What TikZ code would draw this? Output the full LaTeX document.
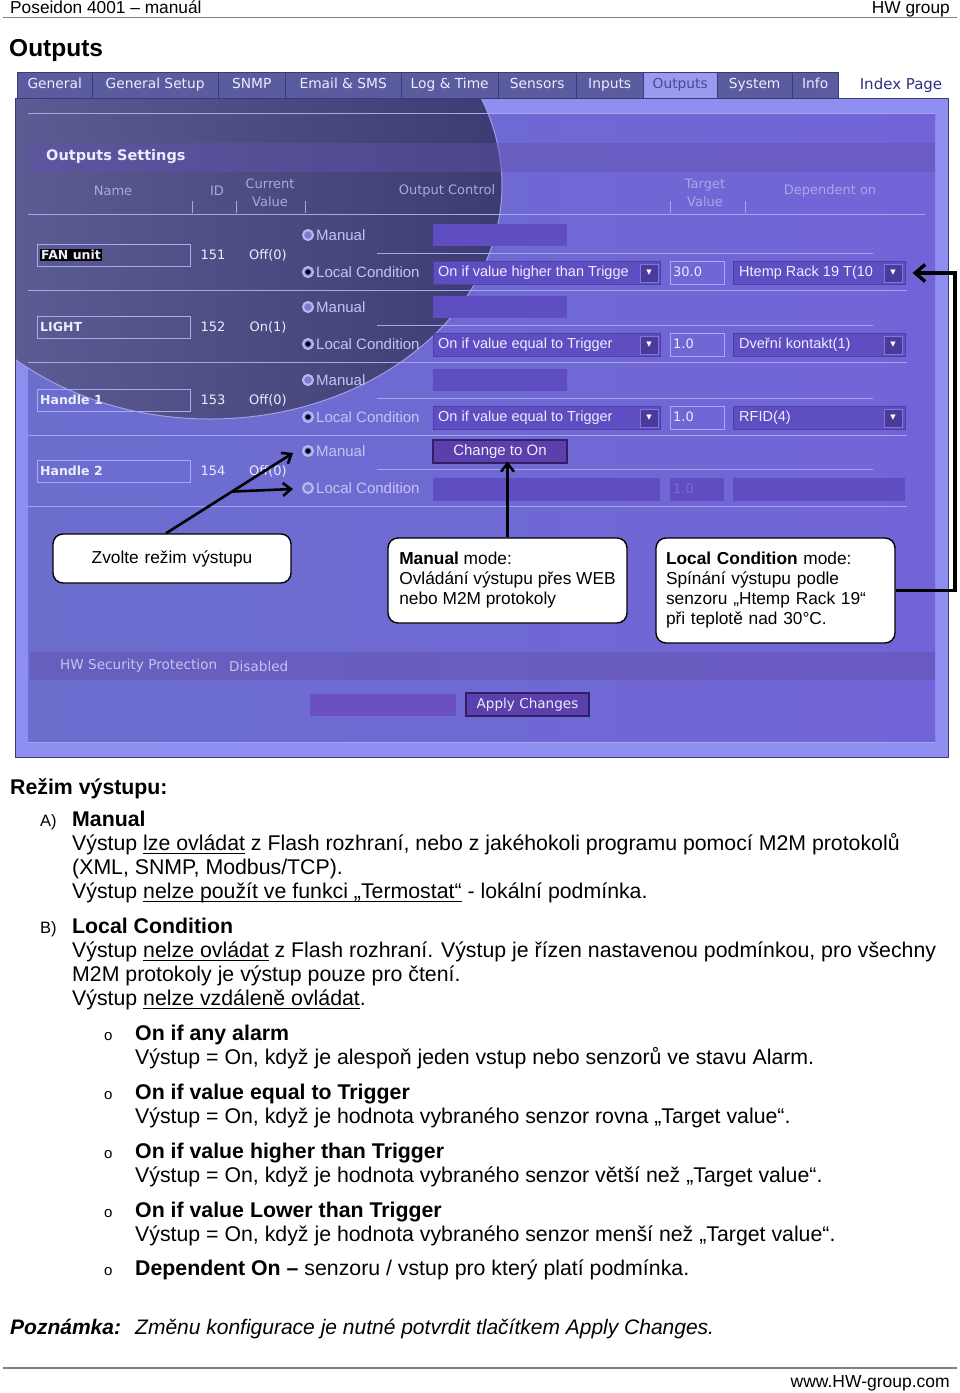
\documentclass[tikz,border=0pt]{standalone}
\usepackage{fontspec}
\setmainfont{Liberation Sans}
\newfontfamily\uif{DejaVu Sans}
\usetikzlibrary{arrows.meta,calc}
\definecolor{pnl}{HTML}{8E8EF0}
\definecolor{pnlb}{HTML}{3C3C7C}
\definecolor{tabf}{HTML}{5B5BA0}
\definecolor{tabb}{HTML}{3A3A78}
\definecolor{tabsel}{HTML}{9A9AEE}
\definecolor{tabseltxt}{HTML}{4A4A92}
\definecolor{idxtxt}{HTML}{303080}
\definecolor{hdrtxt}{HTML}{A8A8E6}
\definecolor{fld}{HTML}{5E4EC2}
\definecolor{fldb}{HTML}{4C40A6}
\definecolor{btnf}{HTML}{4A3A9C}
\definecolor{btnb}{HTML}{8078D4}
\definecolor{lin}{HTML}{A6A6EE}
\definecolor{lbl}{HTML}{C4C4F2}
\definecolor{val}{HTML}{ECECFF}
\definecolor{dk1}{HTML}{62629A}
\definecolor{dk2}{HTML}{3C3C72}
\definecolor{in1}{HTML}{6C6ECE}
\definecolor{in2}{HTML}{7264D8}
\definecolor{band}{HTML}{6252AE}
\definecolor{chg}{HTML}{5B3FAA}
\definecolor{chgb}{HTML}{2C2066}
\definecolor{nbx}{HTML}{A8A8F4}
\definecolor{rad}{HTML}{B8B8F4}
\definecolor{radin}{HTML}{7C7CD4}
\definecolor{tgt}{HTML}{A8A8FF}
\definecolor{elin}{HTML}{A0A0E4}
\definecolor{blank}{HTML}{6A50C0}
\definecolor{dis}{HTML}{7A6AD4}
\definecolor{rule}{HTML}{808080}
\newcommand\fsz[2]{\fontsize{#1}{#2}\selectfont}
\newcommand\myul[1]{\setbox0\hbox{#1}\rlap{\rule[-3.5pt]{\wd0}{0.9pt}}\box0\relax}
\tikzset{
 tabn/.style={draw=tabb, fill=tabf, text=val, font=\uif\fsz{13.8}{15}, inner sep=0, minimum height=26, text height=10, text depth=3, anchor=north west},
 colh/.style={text=hdrtxt, font=\uif\fsz{13}{18}, align=center, inner sep=0},
 ln/.style={draw=lin, line width=0.9},
 namebox/.style={draw=nbx, minimum width=153, minimum height=22, inner sep=0, line width=0.9},
 nametxt/.style={anchor=west, inner sep=0, text=val, font=\uif\bfseries\fsz{12.5}{14}},
 valtxt/.style={inner sep=0, text=val, font=\uif\fsz{13}{15}},
 radio/.style={circle, draw=rad, fill=radin, line width=2, minimum size=10, inner sep=0},
 rlbl/.style={anchor=west, inner sep=0, text=lbl, font=\fsz{15}{17}},
 fldbox/.style={fill=fld, minimum width=134, minimum height=22, inner sep=0},
 ddbox/.style={fill=fld, draw=fldb, line width=1, minimum height=23, inner sep=0},
 ddtxt/.style={anchor=west, inner sep=0, text=val, font=\fsz{14.5}{16}},
 ddbtn/.style={fill=btnf, draw=btnb, line width=0.8, minimum size=18, inner sep=0, text=white, font=\uif\fsz{7}{7}},
 tgtbox/.style={draw=tgt, line width=1, minimum width=54, minimum height=23, inner sep=0},
 tgttxt/.style={anchor=west, inner sep=0, text=val, font=\uif\fsz{13}{15}},
 uibtn/.style={fill=chg, draw=chgb, line width=1.2, inner sep=0, text=val},
 callout/.style={draw=black, line width=1.4, rounded corners=10, fill=white, inner xsep=10, inner ysep=0, font=\fsz{17.3}{20}, align=left},
 arr/.style={draw=black, line width=2.6, -{Straight Barb[length=8pt, width=13pt]}},
 body/.style={anchor=base west, inner sep=0, font=\fsz{21.3}{24}},
 bodyb/.style={anchor=base west, inner sep=0, font=\bfseries\fsz{21.3}{24}},
 bul/.style={anchor=base west, inner sep=0, font=\fsz{15}{18}},
}
\begin{document}
\begin{tikzpicture}[x=1pt,y=-1pt]
\useasboundingbox (0,0) rectangle (960,1393);
\fill[white] (0,0) rectangle (960,1393);
% page header
\node[anchor=base west, inner sep=0, font=\fsz{17.3}{18}] (hdl) at (10,13) {Poseidon 4001 – manuál};
\node[anchor=base east, inner sep=0, font=\fsz{17.3}{18}] (hdr) at (950,13) {HW group};
\draw[rule, line width=1.2] (3,17.5) -- (957,17.5);
\node[anchor=base west, inner sep=0, font=\bfseries\fsz{24.5}{28}] (ttl) at (9,56) {Outputs};
% screenshot panel
\fill[pnl] (15,98) rectangle (948,757);
\shade[left color=in1, right color=in2] (28,113) rectangle (935,742);
\begin{scope}
\clip (15,98) rectangle (948,757);
\shade[left color=dk1, right color=dk2] (210,185) ellipse [x radius=292, y radius=234];
\draw[elin, line width=1] (210,185) ellipse [x radius=292, y radius=234];
\end{scope}
\draw[lin, line width=1] (28,113) -- (935,113);
\draw[lin, line width=1] (28,742) -- (935,742);
\draw[pnlb, line width=1] (15,98) rectangle (948,757);
% tabs
\node[tabn, minimum width=75] (t1) at (17,72) {General};
\node[tabn, minimum width=126] (t2) at (92,72) {General Setup};
\node[tabn, minimum width=67] (t3) at (218,72) {SNMP};
\node[tabn, minimum width=116] (t4) at (285,72) {Email \& SMS};
\node[tabn, minimum width=97] (t5) at (401,72) {Log \& Time};
\node[tabn, minimum width=78] (t6) at (498,72) {Sensors};
\node[tabn, minimum width=67] (t7) at (576,72) {Inputs};
\node[tabn, minimum width=74, fill=tabsel, text=tabseltxt] (t8) at (643,72) {Outputs};
\node[tabn, minimum width=75] (t9) at (717,72) {System};
\node[tabn, minimum width=46] (t10) at (792,72) {Info};
\node[inner sep=0, text=idxtxt, font=\uif\fsz{15}{16}] (t11) at (901,85) {Index Page};
% settings header band
\fill[band, opacity=0.45] (30,143) rectangle (935,172);
\node[anchor=west, inner sep=0, text=val, font=\uif\bfseries\fsz{14.5}{16}] (os) at (46,157) {Outputs Settings};
\node[colh] (hn) at (113,191) {Name};
\node[colh] (hi) at (217,191) {ID};
\node[colh] (hc) at (270,193) {Current\\Value};
\node[colh] (ho) at (447,191) {Output Control};
\node[colh] (ht) at (705,193) {Target\\Value};
\node[colh] (hd) at (830,191) {Dependent on};
\foreach \x in {192,236,305,670,745} \draw[ln] (\x,201) -- (\x,213);
\draw[ln] (28,214) -- (925,214);
% rows
\foreach \m/\l/\nm/\id/\cv [count=\i] in {235/272/{{\setlength{\fboxsep}{1pt}\colorbox{black}{FAN unit}}}/151/Off(0), 307/344/LIGHT/152/On(1), 380/417/Handle 1/153/Off(0), 451/488/Handle 2/154/Off(0)} {
  \pgfmathsetmacro\c{(\m+\l)/2}
  \draw[ln] (377,\c) -- (873,\c);
  \draw[ln] (28,\l+18) -- (907,\l+18);
  \node[namebox] (nb\i) at (113.5,\c+1.5) {};
  \node[nametxt] (nt\i) at (40,\c+1.5) {\nm};
  \node[valtxt] (id\i) at (213,\c+1.5) {\id};
  \node[valtxt] (cv\i) at (268,\c+1.5) {\cv};
  \node[radio] (rm\i) at (308,\m) {};
  \node[radio] (rl\i) at (308,\l) {};
  \node[rlbl] (lm\i) at (316,\m) {Manual};
  \node[rlbl] (ll\i) at (316,\l) {Local Condition};
  \ifnum\i<4 \node[fldbox, anchor=west] (mb\i) at (433,\m) {};\fi
}
\fill[black] (rl1.center) circle [radius=2.6];
\fill[black] (rl2.center) circle [radius=2.6];
\fill[black] (rl3.center) circle [radius=2.6];
\fill[black] (rm4.center) circle [radius=2.6];
% row 1 controls
\node[ddbox, minimum width=227] (dd1) at (546.5,273) {};
\node[ddtxt] (dt1) at (438,273) {On if value higher than Trigge};
\node[ddbtn] (db1) at (649,273) {▼};
\node[tgtbox] (tg1) at (697,272.5) {};
\node[tgttxt] (tt1) at (673,271.5) {30.0};
\node[ddbox, minimum width=172] (dep1) at (819,273) {};
\node[ddtxt] (dpt1) at (739,273) {Htemp Rack 19 T(10};
\node[ddbtn] (dpb1) at (893,273) {▼};
% row 2 controls
\node[ddbox, minimum width=227] (dd2) at (546.5,345) {};
\node[ddtxt] (dt2) at (438,345) {On if value equal to Trigger};
\node[ddbtn] (db2) at (649,345) {▼};
\node[tgtbox] (tg2) at (697,344.5) {};
\node[tgttxt] (tt2) at (673,343.5) {1.0};
\node[ddbox, minimum width=172] (dep2) at (819,345) {};
\node[ddtxt] (dpt2) at (739,345) {Dveřní kontakt(1)};
\node[ddbtn] (dpb2) at (893,345) {▼};
% row 3 controls
\node[ddbox, minimum width=227] (dd3) at (546.5,418) {};
\node[ddtxt] (dt3) at (438,418) {On if value equal to Trigger};
\node[ddbtn] (db3) at (649,418) {▼};
\node[tgtbox] (tg3) at (697,417.5) {};
\node[tgttxt] (tt3) at (673,416.5) {1.0};
\node[ddbox, minimum width=172] (dep3) at (819,418) {};
\node[ddtxt] (dpt3) at (739,418) {RFID(4)};
\node[ddbtn] (dpb3) at (893,418) {▼};
% row 4 controls
\node[uibtn, minimum width=134, minimum height=23, font=\fsz{15}{17}] (chg) at (500,451.5) {Change to On};
\node[ddbox, draw=none, minimum width=227] (dd4) at (546.5,489) {};
\node[ddbox, draw=none, minimum width=54] (tg4) at (697,489) {};
\node[tgttxt, text=dis] (tt4) at (673,489) {1.0};
\node[ddbox, draw=none, minimum width=172] (dep4) at (819,489) {};
% bottom of panel
\fill[band, opacity=0.5] (30,652) rectangle (935,680);
\node[anchor=west, inner sep=0, text=lbl, font=\uif\fsz{13.6}{15}] (hws) at (60,666) {HW Security Protection};
\node[anchor=west, inner sep=0, text=lbl, font=\uif\fsz{13.6}{15}] (hwd) at (229,666) {Disabled};
\node[fill=blank, minimum width=146, minimum height=22, inner sep=0] (apf) at (383,705) {};
\node[uibtn, minimum width=123, minimum height=23, font=\uif\fsz{13.6}{15}] (apb) at (527.5,704.5) {Apply Changes};
% callouts
\node[callout, text width=218, align=center, minimum height=49] (c1) at (172,558.5) {Zvolte režim výstupu};
\node[callout, minimum width=239, minimum height=85] (c2) at (507.5,580.5) {\textbf{Manual} mode:\\Ovládání výstupu přes WEB\\nebo M2M protokoly};
\node[callout, text width=219, minimum height=105] (c3) at (775.5,590.5) {\textbf{Local Condition} mode:\\Spínání výstupu podle\\senzoru „Htemp Rack 19“\\při teplotě nad 30°C.};
\coordinate (s1) at ([xshift=-6pt]c1.north);
\coordinate (e1) at ($(rm4.west)+(-9,2)$);
\coordinate (e2) at ($(rl4.west)+(-9,1)$);
\coordinate (bs) at ($(s1)!0.52!(e1)$);
\coordinate (rx) at (955,0);
\draw[arr] (s1) -- (e1);
\draw[arr] (bs) -- (e2);
\draw[arr] (c2.north) -- ([yshift=2pt]c2.north |- chg.south);
\draw[draw=black, line width=3.4, -{Straight Barb[length=10pt, width=17pt]}] (c3.east) -- (c3.east -| rx) |- ([xshift=7pt]dep1.east);
% text section
\node[bodyb] (rz) at (10,794) {Režim výstupu:};
\node[bul, font=\fsz{16.5}{18}] (la) at (40,826) {A)};
\node[bodyb] (ma) at (72,826) {Manual};
\node[body] (a1) at (72,850) {Výstup \myul{lze ovládat} z Flash rozhraní, nebo z jakéhokoli programu pomocí M2M protokolů};
\node[body] (a2) at (72,874) {(XML, SNMP, Modbus/TCP).};
\node[body] (a3) at (72,898) {Výstup \myul{nelze použít ve funkci „Termostat“} - lokální podmínka.};
\node[bul, font=\fsz{16.5}{18}] (lb) at (40,933) {B)};
\node[bodyb] (mlc) at (72,933) {Local Condition};
\node[body] (b1) at (72,957) {Výstup \myul{nelze ovládat} z Flash rozhraní. Výstup je řízen nastavenou podmínkou, pro všechny};
\node[body] (b2) at (72,981) {M2M protokoly je výstup pouze pro čtení.};
\node[body] (b3) at (72,1005) {Výstup \myul{nelze vzdáleně ovládat}.};
\node[bul] (o1) at (104,1040) {o};
\node[bodyb] (i1) at (135,1040) {On if any alarm};
\node[body] (d1) at (135,1064) {Výstup = On, když je alespoň jeden vstup nebo senzorů ve stavu Alarm.};
\node[bul] (o2) at (104,1099) {o};
\node[bodyb] (i2) at (135,1099) {On if value equal to Trigger};
\node[body] (d2) at (135,1123) {Výstup = On, když je hodnota vybraného senzor rovna „Target value“.};
\node[bul] (o3) at (104,1158) {o};
\node[bodyb] (i3) at (135,1158) {On if value higher than Trigger};
\node[body] (d3) at (135,1182) {Výstup = On, když je hodnota vybraného senzor větší než „Target value“.};
\node[bul] (o4) at (104,1217) {o};
\node[bodyb] (i4) at (135,1217) {On if value Lower than Trigger};
\node[body] (d4) at (135,1241) {Výstup = On, když je hodnota vybraného senzor menší než „Target value“.};
\node[bul] (o5) at (104,1275) {o};
\node[body] (i5) at (135,1275) {\textbf{Dependent On –} senzoru / vstup pro který platí podmínka.};
\node[body, font=\bfseries\itshape\fsz{21}{24}] (pz) at (10,1334) {Poznámka:};
\node[body, font=\itshape\fsz{21}{24}] (pzt) at (135,1334) {Změnu konfigurace je nutné potvrdit tlačítkem Apply Changes.};
\draw[rule, line width=1.6] (3,1368) -- (957,1368);
\node[anchor=base east, inner sep=0, font=\fsz{17.5}{18}] (www) at (950,1387) {www.HW-group.com};
\end{tikzpicture}
\end{document}
